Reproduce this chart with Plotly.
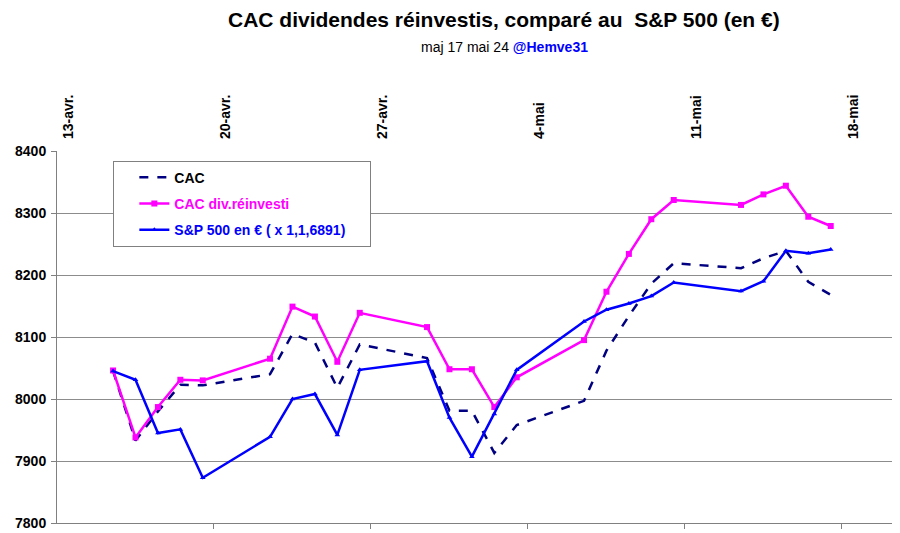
import plotly.graph_objects as go

dates = ["2024-04-15", "2024-04-16", "2024-04-17", "2024-04-18", "2024-04-19",
         "2024-04-22", "2024-04-23", "2024-04-24", "2024-04-25", "2024-04-26",
         "2024-04-29", "2024-04-30", "2024-05-01", "2024-05-02", "2024-05-03",
         "2024-05-06", "2024-05-07", "2024-05-08", "2024-05-09", "2024-05-10",
         "2024-05-13", "2024-05-14", "2024-05-15", "2024-05-16", "2024-05-17"]

cac = [8045, 7933, 7980, 8023, 8022, 8040, 8105, 8091, 8018, 8088,
       8066, 7981, 7981, 7913, 7958, 7997, 8078, 8134, 8186, 8219,
       8211, 8227, 8239, 8189, 8168]

cac_div = [8046, 7938, 7987, 8031, 8030, 8065, 8149, 8133, 8060, 8139,
           8116, 8048, 8048, 7987, 8035, 8095, 8173, 8234, 8290, 8321,
           8313, 8330, 8344, 8294, 8279]

sp500 = [8045, 8031, 7945, 7951, 7873, 7939, 8000, 8008, 7942, 8047,
         8061, 7970, 7907, 7976, 8047, 8125, 8144, 8154, 8166, 8188,
         8174, 8190, 8239, 8235, 8241]

top_tick_dates = ["2024-04-13", "2024-04-20", "2024-04-27", "2024-05-04", "2024-05-11", "2024-05-18"]
top_tick_labels = ["13-avr.", "20-avr.", "27-avr.", "4-mai", "11-mai", "18-mai"]
bottom_tick_dates = ["2024-04-19 12:00", "2024-04-26 12:00", "2024-05-03 12:00",
                     "2024-05-10 12:00", "2024-05-17 12:00"]
x_range = ["2024-04-12 12:00", "2024-05-20 00:00"]

FONT = "Liberation Sans, Arial, sans-serif"
PAD = "\u00a0" * 5

fig = go.Figure()
fig.add_trace(go.Scatter(
    x=dates, y=cac, mode="lines", name="CAC",
    line=dict(color="#000080", width=2.5, dash="dash"),
    legendgroup="a"))
fig.add_trace(go.Scatter(
    x=dates, y=cac_div, mode="lines+markers",
    name="<span style='color:#FF00FF'>CAC div.réinvesti</span>",
    line=dict(color="#FF00FF", width=2.5),
    marker=dict(symbol="square", size=6, color="#FF00FF"),
    legendgroup="b"))
fig.add_trace(go.Scatter(
    x=dates, y=sp500, mode="lines+markers",
    name="<span style='color:#0000FF'>S&P 500 en € ( x 1,1,6891)</span>" + PAD,
    line=dict(color="#0000FF", width=2.5),
    marker=dict(symbol="triangle-up", size=5, color="#0000FF"),
    legendgroup="c"))
# helper trace so the top date axis is drawn
fig.add_trace(go.Scatter(
    x=dates, y=cac, xaxis="x2", mode="lines", line=dict(width=0),
    opacity=0, showlegend=False, hoverinfo="skip"))

fig.update_layout(
    width=892, height=525,
    margin=dict(l=49, r=2, t=143, b=10, autoexpand=False),
    plot_bgcolor="white", paper_bgcolor="white",
    font=dict(family=FONT, color="black"),
    showlegend=True,
    legend=dict(
        x=0.067, y=0.974, xanchor="left", yanchor="top",
        bgcolor="white", bordercolor="#808080", borderwidth=1,
        indentation=20,
        font=dict(family=FONT, size=14, color="black", weight="bold"),
        tracegroupgap=5, traceorder="grouped"),
    xaxis=dict(
        type="date", range=x_range, showgrid=False, zeroline=False,
        automargin=False,
        showline=True, linecolor="#808080", linewidth=1,
        ticks="outside", ticklen=5, tickcolor="#808080",
        tickvals=bottom_tick_dates, showticklabels=False),
    xaxis2=dict(
        type="date", range=x_range, overlaying="x", side="top",
        automargin=False,
        showgrid=False, zeroline=False, showline=False, ticks="",
        tickvals=top_tick_dates, ticktext=top_tick_labels,
        tickangle=-90, ticklabelstandoff=11,
        tickfont=dict(family=FONT, size=14, color="black", weight="bold")),
    yaxis=dict(
        range=[7800, 8400], dtick=100, showgrid=True, automargin=False,
        gridcolor="#8c8c8c", gridwidth=1, zeroline=False,
        showline=True, linecolor="#808080", linewidth=1,
        ticks="outside", ticklen=5, tickcolor="#808080",
        ticklabelstandoff=2,
        tickfont=dict(family=FONT, size=14, color="black", weight="bold")),
)
fig.add_annotation(
    text="CAC dividendes réinvestis, comparé au \u00a0S&P 500 (en €)",
    xref="paper", yref="paper", x=0.532, y=1, yshift=132,
    xanchor="center", yanchor="middle", showarrow=False,
    font=dict(family=FONT, size=21, color="black", weight="bold"))
fig.add_annotation(
    text="maj 17 mai 24 <b><span style='color:#0000FF'>@Hemve31</span></b>",
    xref="paper", yref="paper", x=0.532, y=1, yshift=104,
    xanchor="center", yanchor="middle", showarrow=False,
    font=dict(family=FONT, size=14, color="black"))

fig.write_html("out.html")
